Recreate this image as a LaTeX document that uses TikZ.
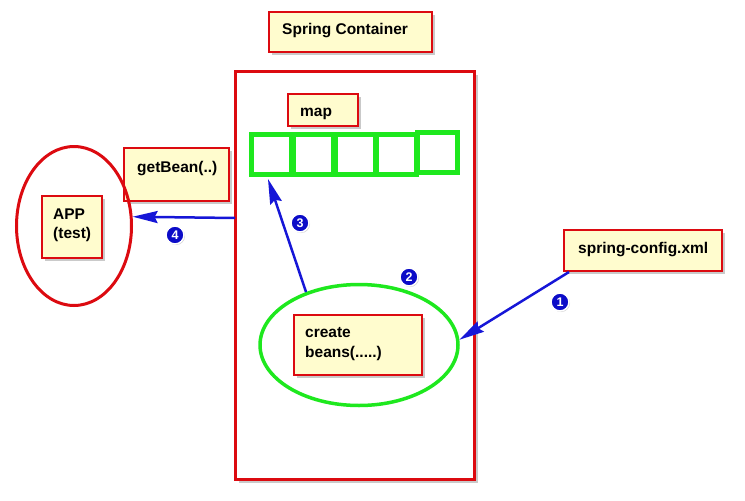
\documentclass[tikz,border=0pt]{standalone}
\usepackage{fontspec}
\setsansfont{Liberation Sans}
\usetikzlibrary{shapes.geometric,shadows,arrows.meta,calc}
\definecolor{boxred}{RGB}{220,10,16}
\definecolor{boxfill}{RGB}{255,252,206}
\definecolor{cellgreen}{RGB}{30,232,30}
\definecolor{arrowblue}{RGB}{22,22,215}
\definecolor{badgeblue}{RGB}{12,12,200}
\begin{document}
\begin{tikzpicture}[x=1pt,y=-1pt,
  shad/.style={drop shadow={shadow xshift=3pt,shadow yshift=-3pt,opacity=0.35,fill=black!60}},
  ybox/.style={draw=boxred,line width=2pt,fill=boxfill,shad,inner sep=0pt,rectangle},
  txt/.style={font=\sffamily\bfseries\fontsize{15.5}{19}\selectfont,anchor=base west,inner sep=0pt},
  cell/.style={draw=cellgreen,line width=5pt,fill=white,minimum width=40pt,minimum height=40pt,inner sep=0pt,
     drop shadow={shadow xshift=1.5pt,shadow yshift=-1.5pt,opacity=0.35,fill=black!60}},
  badge/.style={circle,fill=badgeblue,draw=white,line width=1.5pt,minimum size=18pt,inner sep=0pt,
     text=white,font=\sffamily\bfseries\fontsize{12.5}{12.5}\selectfont,
     drop shadow={shadow xshift=1pt,shadow yshift=-1pt,opacity=0.3,fill=black!60}},
  conn/.style={draw=arrowblue,line width=2.5pt,-{Stealth[length=25pt,width=12pt,inset=3pt]}}
]
\useasboundingbox (0,0) rectangle (745,501);
% big container
\node[draw=boxred,line width=3pt,fill=white,shad,minimum width=239pt,minimum height=408pt,inner sep=0pt] (big) at (355,275.5) {};
% title
\node[ybox,minimum width=163pt,minimum height=40pt] (sc) at (350.5,32) {};
\node[txt] (sct) at (282,34) {Spring Container};
% map
\node[ybox,minimum width=70pt,minimum height=32pt] (map) at (323,110) {};
\node[txt] (mapt) at (300,116) {map};
% cells
\node[cell] (c1) at (271,154.5) {};
\node[cell] (c2) at (313,154.5) {};
\node[cell] (c3) at (355,154.5) {};
\node[cell] (c4) at (396,154.5) {};
\node[cell] (c5) at (437,152) {};
% getBean
\node[ybox,minimum width=105pt,minimum height=53pt] (gb) at (176.5,174.5) {};
\node[txt] (gbt) at (137,172) {getBean(..)};
% APP ellipse
\node[ellipse,draw=boxred,line width=3pt,minimum width=115pt,minimum height=159pt,inner sep=0pt] (app) at (74,226) {};
\node[ybox,minimum width=60pt,minimum height=62pt] (appb) at (72,227) {};
\node[txt] (appt1) at (53,219) {APP};
\node[txt] (appt2) at (53,238) {(test)};
% green ellipse
\node[ellipse,draw=cellgreen,line width=3.5pt,minimum width=198pt,minimum height=121pt,inner sep=0pt] (ge) at (359,345) {};
\node[ybox,minimum width=128pt,minimum height=60pt] (cb) at (358,345) {};
\node[txt] (cbt1) at (305,337) {create};
\node[txt] (cbt2) at (305,357) {beans(.....)};
% spring config
\node[ybox,minimum width=158pt,minimum height=41pt] (cfg) at (643,250.5) {};
\node[txt] (cfgt) at (578,253) {spring-config.xml};
% connectors
\coordinate (s1) at ($(cfg.south west)+(6,0)$);
\draw[conn] (s1) -- (ge.3);
\draw[conn] (ge.135) -- ($(c1.south)+(-3,2)$);
\coordinate (s4) at (235,218);
\draw[conn] (s4) -- (app.9);
% badges
\node[badge] (b1) at (560,302) {1};
\node[badge] (b2) at (409,277) {2};
\node[badge] (b3) at (300,223) {3};
\node[badge] (b4) at (175,235) {4};
\end{tikzpicture}
\end{document}
